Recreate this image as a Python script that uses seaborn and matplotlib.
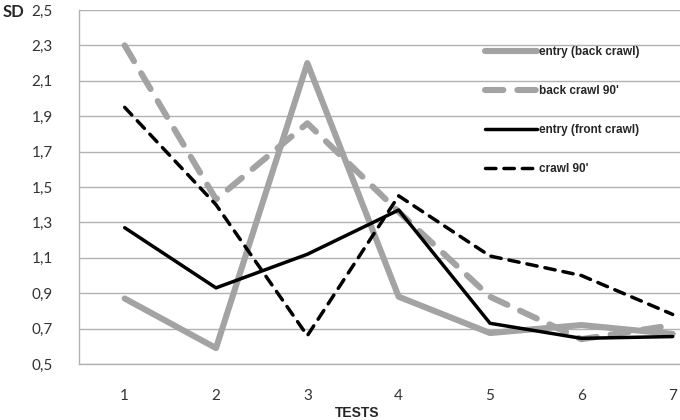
#!/usr/bin/env python3
"""SD per test: entry vs 90' for back crawl and front crawl"""

import pandas as pd
import seaborn as sns
import matplotlib.pyplot as plt
from matplotlib.ticker import FixedLocator, NullFormatter

# data
tests = [1, 2, 3, 4, 5, 6, 7]
entry_back = [0.87, 0.59, 2.20, 0.88, 0.675, 0.72, 0.67]
back_90 = [2.30, 1.43, 1.86, 1.36, 0.88, 0.64, 0.72]
entry_front = [1.27, 0.93, 1.12, 1.37, 0.73, 0.645, 0.655]
crawl_90 = [1.95, 1.40, 0.66, 1.45, 1.11, 1.00, 0.78]
labels = ["entry (back crawl)", "back crawl 90'", "entry (front crawl)", "crawl 90'"]
yticks = [0.5, 0.7, 0.9, 1.1, 1.3, 1.5, 1.7, 1.9, 2.1, 2.3, 2.5]

GRAY = '#a3a3a3'
GRID = '#b2b2b2'

sns.set_style("white")
plt.rcParams['font.family'] = ['Lato', 'DejaVu Sans']

fig = plt.figure(figsize=(6.8, 4.2), dpi=100)
ax = fig.add_axes([79 / 680, 56 / 420, 601 / 680, 354 / 420])

styles = [
    dict(color=GRAY, linewidth=4.4, linestyle='-', solid_capstyle='round'),
    dict(color=GRAY, linewidth=4.4, linestyle=(0, (3.0, 2.3)), dash_capstyle='round'),
    dict(color='black', linewidth=2.5, linestyle='-', solid_capstyle='round'),
    dict(color='black', linewidth=2.5, linestyle=(0, (3.0, 2.3)), dash_capstyle='round'),
]

for vals, lab, st in zip([entry_back, back_90, entry_front, crawl_90], labels, styles):
    df = pd.DataFrame({'test': tests, 'sd': vals})
    sns.lineplot(data=df, x='test', y='sd', ax=ax, label=lab, legend=False, **st)

ax.set_xlim(0.5, 7.08)
ax.set_ylim(0.5, 2.5)
ax.set_yticks(yticks)
ax.set_yticklabels([f"{v:.1f}".replace('.', ',') for v in yticks])
ax.set_xticks(tests)
ax.set_xticklabels([str(t) for t in tests])
ax.xaxis.set_minor_locator(FixedLocator([1.5, 2.5, 3.5, 4.5, 5.5, 6.5]))
ax.xaxis.set_minor_formatter(NullFormatter())

ax.tick_params(axis='x', which='major', length=0, pad=18, labelsize=11, labelcolor='#333333')
ax.tick_params(axis='x', which='minor', length=6, width=1, color=GRID, direction='out')
ax.tick_params(axis='y', which='major', length=7, width=1, color=GRID, direction='out',
               pad=12, labelsize=11, labelcolor='#333333')

ax.grid(axis='y', color=GRID, linewidth=1)
ax.set_axisbelow(True)
for side in ['top', 'right']:
    ax.spines[side].set_visible(False)
for side in ['left', 'bottom']:
    ax.spines[side].set_color(GRID)
    ax.spines[side].set_linewidth(1)

ax.set_xlabel('')
ax.set_ylabel('')
fig.text(3 / 680, 1 - 12 / 420, 'SD', fontsize=12, fontweight='bold', va='center', ha='left')
fig.text(357 / 680, 1 - 413 / 420, 'TESTS', fontsize=10, fontweight='bold', va='center',
         ha='center', family=['Liberation Sans', 'DejaVu Sans'])

leg = ax.legend(loc='upper left', bbox_to_anchor=(485 / 680, 1 - 46 / 420),
                bbox_transform=fig.transFigure, frameon=False, borderpad=0,
                borderaxespad=0, handlelength=4.4, handletextpad=0.2,
                labelspacing=2.3, prop={'family': ['Liberation Sans', 'DejaVu Sans'],
                                        'weight': 'bold', 'size': 8.5})

fig.savefig('out.png', dpi=100)
